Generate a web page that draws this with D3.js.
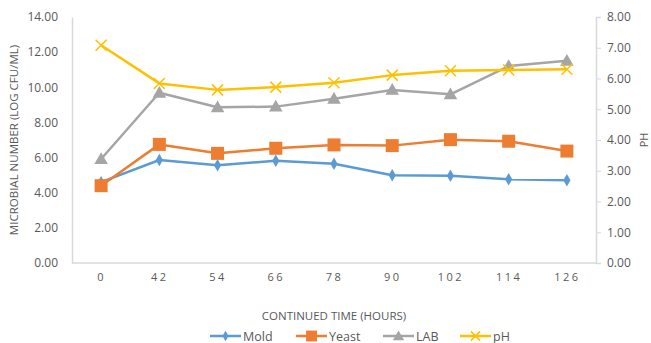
<!DOCTYPE html>
<html><head><meta charset="utf-8">
<script src="https://cdn.jsdelivr.net/npm/d3@7"></script>
<style>body{margin:0;background:#fff}svg{display:block}text{font-family:"Open Sans",Lato,sans-serif;fill:#595959}</style>
</head><body>
<script>
const categories = ["0","42","54","66","78","90","102","114","126"];
const mold  = [4.60, 5.86, 5.56, 5.82, 5.65, 4.99, 4.97, 4.76, 4.71];
const yeast = [4.40, 6.75, 6.24, 6.53, 6.72, 6.68, 7.02, 6.93, 6.37];
const lab   = [5.92, 9.69, 8.86, 8.90, 9.35, 9.85, 9.60, 11.21, 11.51];
const ph    = [7.08, 5.84, 5.63, 5.72, 5.86, 6.11, 6.25, 6.28, 6.30];
const leftTicks = [0,2,4,6,8,10,12,14];
const rightTicks = [0,1,2,3,4,5,6,7,8];

const W=651,H=343, L=72, R=596, T=17, B=263;
const svg=d3.select("body").append("svg").attr("width",W).attr("height",H);
const x=d3.scalePoint().domain(categories).range([L,R]).padding(0.5);
const yL=d3.scaleLinear().domain([0,14]).range([B,T]);
const yR=d3.scaleLinear().domain([0,8]).range([B,T]);
const axisCol="#d9d9d9";

// left axis
const gl=svg.append("g").attr("transform",`translate(${L},0)`)
  .call(d3.axisLeft(yL).tickValues(leftTicks).tickFormat(d3.format(".2f")).tickSize(0).tickPadding(14));
gl.select(".domain").attr("stroke",axisCol).attr("stroke-width",1.5);
gl.selectAll("text").attr("font-size",12).style("fill","#595959");
// right axis
const gr=svg.append("g").attr("transform",`translate(${R},0)`)
  .call(d3.axisRight(yR).tickValues(rightTicks).tickFormat(d3.format(".2f")).tickSizeInner(5).tickSizeOuter(5).tickPadding(6));
gr.select(".domain").attr("stroke",axisCol).attr("stroke-width",1.5);
gr.selectAll("line").attr("stroke",axisCol);
gr.selectAll("text").attr("font-size",12).style("fill","#595959");
// bottom axis
const gb=svg.append("g").attr("transform",`translate(0,${B})`)
  .call(d3.axisBottom(x).tickSize(0).tickPadding(10));
gb.select(".domain").attr("stroke",axisCol).attr("stroke-width",1.5).attr("d",`M${L},0H${R}`);
gb.selectAll("text").attr("font-size",11).attr("letter-spacing","2.5px").style("fill","#595959");

// titles
svg.append("text").attr("transform",`translate(18,${(T+B)/2}) rotate(-90)`).attr("text-anchor","middle")
  .attr("font-size",11.5).text("MICROBIAL NUMBER (LOG CFU/ML)");
svg.append("text").attr("transform",`translate(648,${(T+B)/2}) rotate(-90)`).attr("text-anchor","middle")
  .attr("font-size",11).text("PH");
svg.append("text").attr("x",(L+R)/2).attr("y",320).attr("text-anchor","middle")
  .attr("font-size",11.5).text("CONTINUED TIME (HOURS)");

const series=[
  {name:"Mold",data:mold,color:"#5b9bd5",shape:"diamond",y:yL},
  {name:"Yeast",data:yeast,color:"#ed7d31",shape:"square",y:yL},
  {name:"LAB",data:lab,color:"#a5a5a5",shape:"triangle",y:yL},
  {name:"pH",data:ph,color:"#ffc000",shape:"x",y:yR}
];
function marker(g,s,cx,cy,scale){
  scale=scale||1;
  if(s.shape==="diamond"){
    g.append("path").attr("d",d3.symbol(d3.symbolDiamond,45*scale)()).attr("transform",`translate(${cx},${cy})`).attr("fill",s.color);
  } else if(s.shape==="square"){
    const a=13*Math.sqrt(scale);
    g.append("rect").attr("x",cx-a/2).attr("y",cy-a/2).attr("width",a).attr("height",a).attr("fill",s.color);
  } else if(s.shape==="triangle"){
    g.append("path").attr("d",d3.symbol(d3.symbolTriangle,80*scale)()).attr("transform",`translate(${cx},${cy+1})`).attr("fill",s.color);
  } else {
    const a=5.5*Math.sqrt(scale);
    g.append("path").attr("d",`M${cx-a},${cy-a}L${cx+a},${cy+a}M${cx-a},${cy+a}L${cx+a},${cy-a}`).attr("stroke",s.color).attr("stroke-width",1.5).attr("fill","none");
  }
}
series.forEach(s=>{
  const g=svg.append("g");
  const line=d3.line().x((d,i)=>x(categories[i])).y(d=>s.y(d));
  g.append("path").datum(s.data).attr("d",line).attr("fill","none").attr("stroke",s.color).attr("stroke-width",2.5).attr("stroke-linejoin","round");
  s.data.forEach((d,i)=>marker(g,s,x(categories[i]),s.y(d)));
});

// legend
const legX=[210,296,383,460];
series.forEach((s,i)=>{
  const g=svg.append("g");
  const x0=legX[i], ly=336;
  g.append("line").attr("x1",x0).attr("x2",x0+31).attr("y1",ly).attr("y2",ly).attr("stroke",s.color).attr("stroke-width",2.5);
  marker(g,s,x0+15.5,ly,0.7);
  g.append("text").attr("x",x0+33).attr("y",ly+4.5).attr("font-size",12.5).text(s.name);
});
</script>
</body></html>
